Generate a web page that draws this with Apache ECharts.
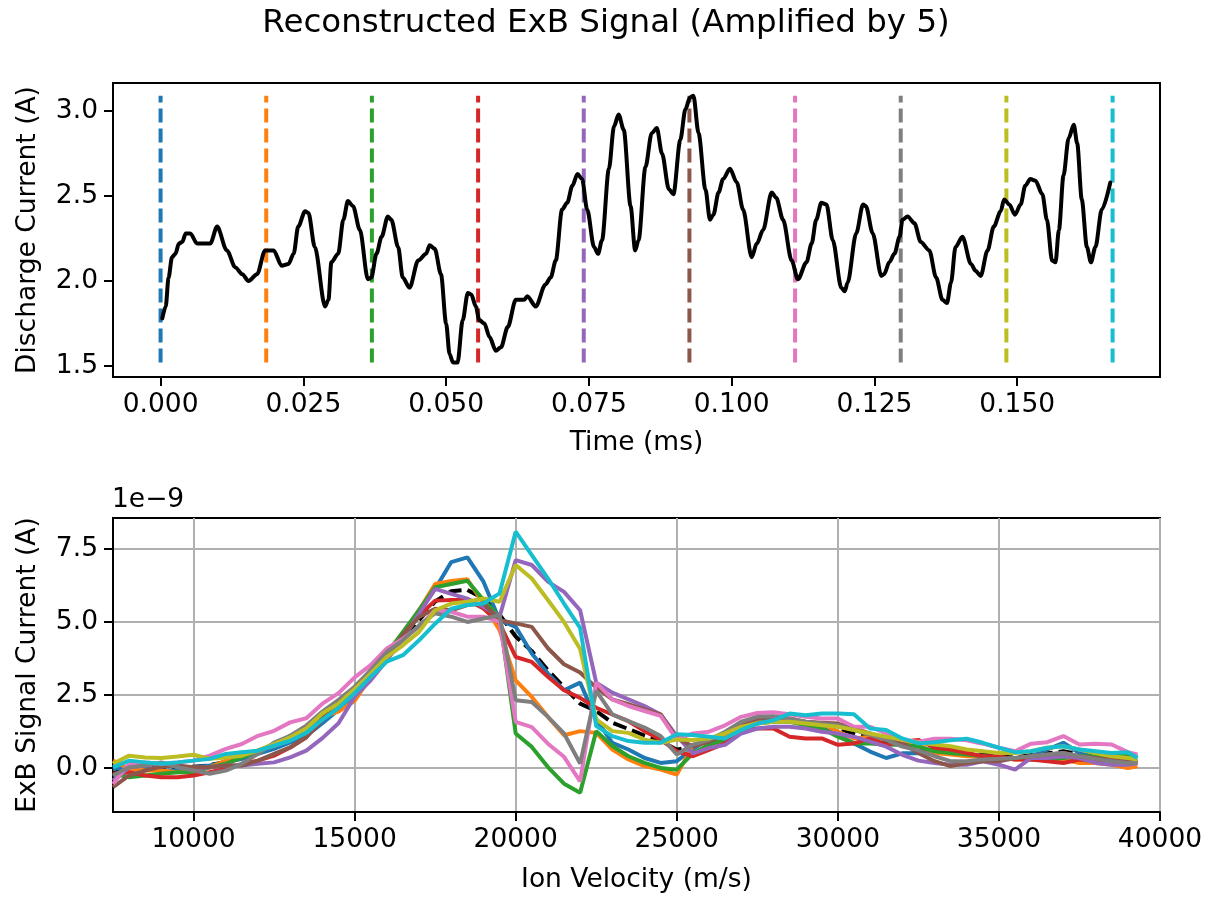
<!DOCTYPE html>
<html><head><meta charset="utf-8">
<script src="https://cdn.jsdelivr.net/npm/echarts@6/dist/echarts.min.js"></script>
<style>html,body{margin:0;padding:0;background:#fff}#c{width:1210px;height:897px}</style>
</head><body><div id="c"></div>
<script>
// ---- top panel data ----
const timeMs = [0.0003,0.0009,0.0014,0.0020,0.0026,0.0032,0.0038,0.0044,0.0052,0.0064,0.0076,0.0087,0.0099,0.0116,0.0131,0.0143,0.0154,0.0169,0.0183,0.0198,0.0212,0.0224,0.0233,0.0241,0.0253,0.0259,0.0270,0.0288,0.0294,0.0299,0.0311,0.0320,0.0328,0.0337,0.0349,0.0363,0.0369,0.0378,0.0387,0.0398,0.0404,0.0416,0.0424,0.0436,0.0451,0.0465,0.0471,0.0480,0.0491,0.0500,0.0506,0.0512,0.0520,0.0529,0.0538,0.0544,0.0552,0.0558,0.0567,0.0576,0.0587,0.0596,0.0608,0.0622,0.0637,0.0642,0.0657,0.0674,0.0683,0.0692,0.0703,0.0712,0.0721,0.0730,0.0738,0.0747,0.0759,0.0766,0.0773,0.0785,0.0794,0.0802,0.0811,0.0823,0.0831,0.0837,0.0849,0.0860,0.0869,0.0878,0.0890,0.0898,0.0910,0.0919,0.0927,0.0933,0.0942,0.0954,0.0962,0.0968,0.0977,0.0985,0.0997,0.1009,0.1020,0.1035,0.1044,0.1055,0.1070,0.1078,0.1090,0.1105,0.1116,0.1131,0.1140,0.1148,0.1157,0.1166,0.1177,0.1192,0.1198,0.1203,0.1218,0.1230,0.1235,0.1247,0.1262,0.1267,0.1276,0.1285,0.1294,0.1299,0.1308,0.1320,0.1331,0.1346,0.1358,0.1369,0.1377,0.1384,0.1392,0.1404,0.1419,0.1427,0.1436,0.1448,0.1459,0.1471,0.1477,0.1486,0.1496,0.1506,0.1514,0.1523,0.1532,0.1544,0.1552,0.1561,0.1567,0.1573,0.1581,0.1590,0.1599,0.1605,0.1613,0.1622,0.1629,0.1637,0.1648,0.1663];
const dischargeCurrent = [1.78,1.85,2.02,2.14,2.16,2.22,2.23,2.28,2.28,2.22,2.22,2.22,2.32,2.18,2.08,2.04,2.00,2.04,2.18,2.18,2.09,2.10,2.16,2.32,2.41,2.40,2.20,1.85,1.89,2.11,2.16,2.36,2.47,2.44,2.30,2.01,2.02,2.16,2.26,2.38,2.36,2.20,2.02,1.96,2.12,2.16,2.21,2.19,2.04,1.75,1.57,1.52,1.52,1.77,1.93,1.92,1.85,1.77,1.75,1.67,1.59,1.61,1.73,1.89,1.89,1.91,1.85,1.98,2.02,2.12,2.42,2.46,2.56,2.63,2.60,2.42,2.20,2.16,2.24,2.66,2.91,2.98,2.89,2.44,2.18,2.24,2.67,2.87,2.90,2.75,2.54,2.51,2.83,3.01,3.08,3.09,2.87,2.54,2.36,2.39,2.52,2.60,2.66,2.58,2.42,2.14,2.22,2.30,2.52,2.49,2.36,2.12,2.01,2.11,2.22,2.36,2.46,2.45,2.24,1.96,1.94,1.99,2.28,2.45,2.44,2.28,2.03,2.04,2.11,2.16,2.26,2.36,2.38,2.34,2.23,2.18,2.02,1.89,1.87,1.99,2.20,2.26,2.10,2.06,2.03,2.18,2.32,2.41,2.48,2.45,2.39,2.45,2.56,2.60,2.59,2.51,2.36,2.12,2.11,2.30,2.62,2.84,2.92,2.81,2.48,2.20,2.11,2.20,2.42,2.58];
const markerTimes = [0, 0.0185, 0.0370, 0.0556, 0.0741, 0.0926, 0.1111, 0.1296, 0.1481, 0.1667];
const topXTicks = [0, 0.025, 0.05, 0.075, 0.1, 0.125, 0.15];
const topYTicks = [1.5, 2.0, 2.5, 3.0];

// ---- bottom panel data (values in units of 1e-9 A) ----
const velocity = [7500,8000,8500,9000,9500,10000,10500,11000,11500,12000,12500,13000,13500,14000,14500,15000,15500,16000,16500,17000,17500,18000,18500,19000,19500,20000,20500,21000,21500,22000,22500,23000,23500,24000,24500,25000,25500,26000,26500,27000,27500,28000,28500,29000,29500,30000,30500,31000,31500,32000,32500,33000,33500,34000,34500,35000,35500,36000,36500,37000,37500,38000,38500,39000,39300];
const sig0 = [-0.03,0.02,-0.03,-0.09,-0.09,0.02,0.08,0.19,0.31,0.48,0.65,0.87,1.1,1.53,1.99,2.5,3.12,3.69,4.6,5.4,6.13,7.05,7.21,6.38,5.06,4.83,3.92,3.23,2.66,2.92,1.66,0.86,0.63,0.34,0.17,0.23,0.65,1.0,1.13,1.35,1.58,1.63,1.6,1.52,1.41,1.13,0.84,0.56,0.34,0.5,0.5,0.51,0.51,0.46,0.42,0.29,0.31,0.4,0.63,0.86,0.51,0.34,0.29,0.23,0.23];
const sig1 = [0.25,-0.03,-0.09,-0.09,-0.15,-0.09,0.02,0.25,0.45,0.6,0.76,0.99,1.22,1.76,1.93,2.3,3.12,3.8,4.6,5.4,6.3,6.4,6.46,5.63,4.72,3.0,2.43,1.75,1.12,1.26,1.2,0.63,0.29,0.06,-0.06,-0.23,0.75,0.96,1.07,1.41,1.58,1.63,1.69,1.58,1.52,1.24,1.01,1.07,0.96,0.9,0.79,0.51,0.46,0.4,0.38,0.34,0.29,0.29,0.34,0.29,0.17,0.17,0.11,0.0,0.06];
const sig2 = [-0.2,-0.32,-0.26,-0.2,-0.15,-0.15,0.02,0.14,0.36,0.59,0.82,1.1,1.33,1.87,2.27,2.7,3.35,3.92,4.66,5.4,6.19,6.3,6.41,5.75,5.18,1.18,0.72,0.03,-0.54,-0.85,1.26,0.75,0.4,0.17,0.0,-0.06,0.5,0.79,0.96,1.35,1.52,1.58,1.58,1.46,1.35,1.07,0.84,0.84,0.79,0.79,0.73,0.57,0.51,0.46,0.4,0.34,0.34,0.29,0.29,0.34,0.4,0.4,0.46,0.46,0.4];
const sig3 = [-0.2,-0.15,-0.26,-0.32,-0.32,-0.26,-0.15,-0.03,0.14,0.25,0.42,0.7,1.05,1.65,2.1,2.61,3.2,3.8,4.55,5.22,5.73,5.75,5.75,5.46,4.95,3.8,3.63,3.12,2.66,2.4,2.06,1.83,1.6,1.26,0.97,0.57,0.4,0.62,0.84,1.3,1.35,1.35,1.07,1.01,1.01,0.79,0.84,1.01,0.79,0.9,0.96,0.69,0.63,0.51,0.4,0.4,0.29,0.29,0.23,0.17,0.29,0.23,0.34,0.23,0.17];
const sig4 = [-0.43,0.02,0.08,0.14,0.08,-0.03,0.02,0.08,0.08,0.14,0.19,0.36,0.59,1.02,1.53,2.44,3.0,3.69,4.43,5.28,6.13,5.96,5.8,5.52,5.18,7.12,6.95,6.38,6.03,5.4,2.92,2.58,2.35,2.12,1.83,1.09,0.5,0.68,0.79,1.18,1.35,1.41,1.41,1.35,1.24,1.18,1.07,0.9,0.73,0.45,0.25,0.17,0.11,0.11,0.23,0.11,-0.06,0.34,0.34,0.4,0.34,0.17,0.11,0.11,0.17];
const sig5 = [-0.66,-0.26,-0.09,0.05,0.08,0.02,0.02,0.08,0.08,0.25,0.48,0.7,1.05,1.7,2.05,2.6,3.2,3.8,4.55,5.17,5.45,5.4,5.58,5.63,5.06,4.95,4.83,4.1,3.55,3.27,2.75,2.35,2.18,2.0,1.83,1.03,0.73,0.9,1.18,1.52,1.69,1.69,1.63,1.58,1.55,1.52,1.35,1.18,1.01,0.84,0.51,0.23,0.06,0.17,0.23,0.23,0.34,0.4,0.46,0.51,0.4,0.34,0.29,0.23,0.23];
const sig6 = [-0.55,0.14,0.19,0.14,0.19,0.25,0.42,0.65,0.82,1.1,1.27,1.56,1.7,2.2,2.56,3.1,3.52,4.09,4.43,4.83,5.4,5.35,5.18,5.18,5.0,1.58,1.4,0.83,0.38,-0.46,2.92,2.35,2.12,1.95,1.78,0.97,1.18,1.24,1.46,1.75,1.88,1.91,1.84,1.75,1.69,1.69,1.41,1.41,1.18,0.96,0.9,1.0,1.0,0.95,0.83,0.69,0.57,0.83,0.88,1.09,0.8,0.83,0.8,0.54,0.46];
const sig7 = [-0.26,0.02,0.08,0.19,0.02,-0.09,-0.2,-0.09,0.14,0.48,0.87,1.1,1.45,1.93,2.33,2.78,3.35,3.98,4.37,4.88,5.3,5.18,5.0,5.12,5.23,2.32,2.26,1.75,1.18,0.15,2.64,1.83,1.6,1.38,1.09,0.46,0.8,0.96,1.24,1.58,1.75,1.77,1.69,1.58,1.52,1.46,1.3,1.13,0.96,0.73,0.6,0.4,0.23,0.23,0.29,0.31,0.34,0.4,0.46,0.51,0.4,0.31,0.23,0.17,0.17];
const sig8 = [0.14,0.42,0.36,0.34,0.39,0.45,0.31,0.36,0.42,0.59,0.82,1.05,1.35,1.87,2.2,2.7,3.24,3.8,4.2,4.66,5.4,5.63,5.69,5.8,5.69,6.95,6.49,5.75,5.0,4.07,1.66,1.26,1.2,0.97,0.86,0.97,0.96,1.01,1.18,1.41,1.52,1.58,1.58,1.52,1.46,1.41,1.3,1.18,1.07,0.96,0.86,0.8,0.74,0.63,0.57,0.51,0.51,0.57,0.69,0.74,0.63,0.51,0.4,0.34,0.29];
const sig9 = [0.02,0.25,0.19,0.14,0.19,0.25,0.31,0.48,0.54,0.59,0.76,0.93,1.2,1.65,2.05,2.56,3.12,3.64,3.86,4.37,4.94,5.45,5.58,5.63,5.98,8.09,7.29,6.49,5.63,4.8,1.43,1.09,0.92,0.86,0.86,1.15,1.13,1.07,1.01,1.3,1.52,1.63,1.86,1.8,1.86,1.86,1.84,1.35,1.3,1.01,0.84,0.88,0.95,1.0,0.86,0.69,0.54,0.57,0.69,0.74,0.63,0.57,0.51,0.54,0.34];
const sigMean = [-0.19,0.01,0.02,0.03,0.02,0.04,0.09,0.21,0.33,0.51,0.70,0.94,1.2,1.72,2.1,2.63,3.22,3.82,4.43,5.06,5.7,6.05,6.1,5.8,5.25,4.5,4.0,3.34,2.77,2.2,1.95,1.55,1.33,1.11,0.93,0.62,0.76,0.92,1.09,1.42,1.57,1.62,1.6,1.52,1.46,1.34,1.18,1.06,0.91,0.8,0.69,0.58,0.52,0.49,0.46,0.39,0.35,0.44,0.5,0.57,0.46,0.39,0.35,0.29,0.25];
const botXTicks = [10000, 15000, 20000, 25000, 30000, 35000, 40000];
const botYTicks = [0, 2.5, 5.0, 7.5];

const tab10 = ['#1f77b4','#ff7f0e','#2ca02c','#d62728','#9467bd','#8c564b','#e377c2','#7f7f7f','#bcbd22','#17becf'];
const FONT = 'DejaVu Sans';
const FS = 26.5;
const LW = 4;
const DASH = [14, 6];

const sigs = [sig0,sig1,sig2,sig3,sig4,sig5,sig6,sig7,sig8,sig9];
const pair = (xs, ys) => xs.map((x, i) => [x, ys[i]]);
const yMinSig = Math.min(...dischargeCurrent), yMaxSig = Math.max(...dischargeCurrent);

function axisCommon(ticks, fmt) {
  return {
    axisLine: { show: true, onZero: false, lineStyle: { color: '#000', width: 2 } },
    axisTick: { show: true, inside: false, length: 9, customValues: ticks, lineStyle: { color: '#000', width: 2 } },
    axisLabel: { show: true, margin: 15, customValues: ticks, formatter: fmt, color: '#000', fontSize: FS, fontFamily: FONT },
  };
}

const series = [];
markerTimes.forEach((t, i) => {
  series.push({
    type: 'line', xAxisIndex: 0, yAxisIndex: 0, data: [[t, yMinSig], [t, yMaxSig]],
    showSymbol: false, silent: true, z: 2,
    lineStyle: { color: tab10[i], width: LW, type: DASH }
  });
});
series.push({
  type: 'line', xAxisIndex: 0, yAxisIndex: 0, data: pair(timeMs, dischargeCurrent),
  showSymbol: false, smooth: 0.3, smoothMonotone: 'x', z: 3,
  lineStyle: { color: '#000', width: LW, join: 'round', cap: 'round' }
});
sigs.forEach((s, i) => {
  series.push({
    type: 'line', xAxisIndex: 1, yAxisIndex: 1, data: pair(velocity, s),
    showSymbol: false, z: 2, lineStyle: { color: tab10[i], width: LW }
  });
});
series.push({
  type: 'line', xAxisIndex: 1, yAxisIndex: 1, data: pair(velocity, sigMean),
  showSymbol: false, z: 1, lineStyle: { color: '#000', width: LW, type: DASH }
});

const chart = echarts.init(document.getElementById('c'), null, { renderer: 'canvas' });
const txt = (text, x, y, size, rot, align) => ({
  type: 'text', x: x, y: y, rotation: rot || 0,
  style: { text: text, font: size + 'px "DejaVu Sans"', fill: '#000', align: align || 'center', verticalAlign: 'middle' }
});
chart.setOption({
  animation: false,
  backgroundColor: '#fff',
  grid: [
    { left: 113, top: 83, width: 1047, height: 294, show: true, borderColor: '#000', borderWidth: 2, containLabel: false },
    { left: 113, top: 518, width: 1047, height: 294, show: true, borderColor: '#000', borderWidth: 2, containLabel: false }
  ],
  xAxis: [
    Object.assign({ type: 'value', gridIndex: 0, min: -0.00833, max: 0.175, splitLine: { show: false } },
      axisCommon(topXTicks, v => v.toFixed(3))),
    Object.assign({ type: 'value', gridIndex: 1, min: 7500, max: 40000,
      splitLine: { show: true, lineStyle: { color: '#b0b0b0', width: 2 } } },
      axisCommon(botXTicks, v => String(Math.round(v))))
  ],
  yAxis: [
    Object.assign({ type: 'value', gridIndex: 0, min: 1.435, max: 3.165, splitLine: { show: false } },
      axisCommon(topYTicks, v => v.toFixed(1))),
    Object.assign({ type: 'value', gridIndex: 1, min: -1.51, max: 8.56,
      splitLine: { show: true, lineStyle: { color: '#b0b0b0', width: 2 } } },
      axisCommon(botYTicks, v => v.toFixed(1)))
  ],
  graphic: [
    txt('Reconstructed ExB Signal (Amplified by 5)', 606, 24, 32.5),
    txt('Time (ms)', 636.5, 443, FS),
    txt('Discharge Current (A)', 28, 230, FS, Math.PI / 2),
    txt('Ion Velocity (m/s)', 636.5, 880, FS),
    txt('ExB Signal Current (A)', 28, 665, FS, Math.PI / 2),
    txt('1e\u22129', 112, 500, FS, 0, 'left')
  ],
  series: series
});
</script>
</body></html>
